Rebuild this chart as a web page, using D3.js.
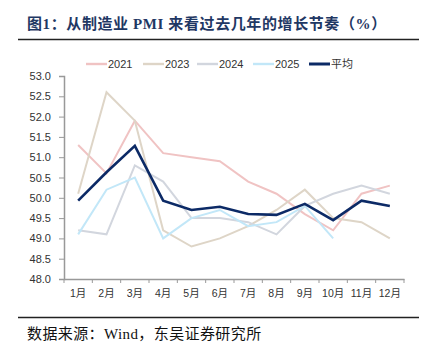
<!DOCTYPE html>
<html>
<head>
<meta charset="utf-8">
<script src="https://cdn.jsdelivr.net/npm/d3@7"></script>
<style>
  html, body { margin: 0; padding: 0; background: #fff; }
  svg { display: block; }
</style>
</head>
<body>
<script>
// Manufacturing PMI by month, one list per year
const months = ['1月', '2月', '3月', '4月', '5月', '6月', '7月', '8月', '9月', '10月', '11月', '12月'];
const pmi2021 = [51.3, 50.6, 51.9, 51.1, 51.0, 50.9, 50.4, 50.1, 49.6, 49.2, 50.1, 50.3];
const pmi2023 = [50.1, 52.6, 51.9, 49.2, 48.8, 49.0, 49.3, 49.7, 50.2, 49.5, 49.4, 49.0];
const pmi2024 = [49.2, 49.1, 50.8, 50.4, 49.5, 49.5, 49.4, 49.1, 49.8, 50.1, 50.3, 50.1];
const pmi2025 = [49.1, 50.2, 50.5, 49.0, 49.5, 49.7, 49.3, 49.4, 49.8, 49.0];
const pmiAvg = [49.93, 50.63, 51.28, 49.93, 49.70, 49.78, 49.60, 49.58, 49.85, 49.45, 49.93, 49.80];
const yTicks = [48.0, 48.5, 49.0, 49.5, 50.0, 50.5, 51.0, 51.5, 52.0, 52.5, 53.0];

const series = [
  {name: '2021', values: pmi2021, color: '#f0c3c3', width: 2},
  {name: '2023', values: pmi2023, color: '#ded5c7', width: 2},
  {name: '2024', values: pmi2024, color: '#d2d6de', width: 2},
  {name: '2025', values: pmi2025, color: '#c2e7f8', width: 2},
  {name: '平均', values: pmiAvg, color: '#0c2a66', width: 2.6},
];

const W = 431, H = 349;
const margin = {top: 76, right: 27, bottom: 70, left: 64};

const svg = d3.select('body').append('svg')
  .attr('width', W)
  .attr('height', H);

// title + rules
svg.append('text')
  .attr('x', 27).attr('y', 29)
  .attr('font-family', '"Liberation Serif", "Noto Sans CJK SC", serif')
  .attr('font-weight', 'bold')
  .attr('font-size', 15)
  .attr('letter-spacing', 0.6)
  .attr('fill', '#1f3864')
  .text('图1：从制造业 PMI 来看过去几年的增长节奏（%）');

svg.append('line')
  .attr('x1', 18).attr('x2', 419).attr('y1', 39.5).attr('y2', 39.5)
  .attr('stroke', '#222').attr('stroke-width', 1.6);

svg.append('line')
  .attr('x1', 18).attr('x2', 419).attr('y1', 317.5).attr('y2', 317.5)
  .attr('stroke', '#222').attr('stroke-width', 1.6);

svg.append('text')
  .attr('x', 27).attr('y', 339)
  .attr('font-family', '"Liberation Serif", "Noto Sans CJK SC", serif')
  .attr('font-size', 15)
  .attr('letter-spacing', 0.4)
  .attr('fill', '#111')
  .text('数据来源：Wind，东吴证券研究所');

// scales
const x = d3.scaleBand().domain(months).range([margin.left, W - margin.right]);
const y = d3.scaleLinear().domain([48, 53]).range([H - margin.bottom, margin.top]);
const xc = (i) => x(months[i]) + x.bandwidth() / 2;

// y axis
const axisY = svg.append('g')
  .attr('transform', `translate(${margin.left},0)`)
  .call(d3.axisLeft(y).tickValues(yTicks).tickFormat(d3.format('.1f')).tickSize(5).tickPadding(8));

// x axis: labels at band centres, tick marks on band edges
const axisX = svg.append('g')
  .attr('transform', `translate(0,${H - margin.bottom})`)
  .call(d3.axisBottom(x).tickSize(0).tickPadding(11));

axisX.selectAll('.edge')
  .data(d3.range(months.length + 1))
  .enter().append('line')
  .attr('class', 'edge')
  .attr('x1', (i) => margin.left + i * x.step())
  .attr('x2', (i) => margin.left + i * x.step())
  .attr('y1', 0).attr('y2', 4)
  .attr('stroke', '#999');

[axisX, axisY].forEach((ax) => {
  ax.select('.domain').attr('stroke', '#999').attr('stroke-width', 1.5);
  ax.selectAll('.tick line').attr('stroke', '#999');
  ax.selectAll('text')
    .attr('font-family', '"Liberation Sans", "Noto Sans CJK SC", sans-serif')
    .attr('font-size', 11)
    .attr('fill', '#333');
});
axisX.selectAll('text').attr('font-size', 10.5);

// lines
const line = d3.line()
  .x((d, i) => xc(i))
  .y((d) => y(d));

svg.append('g').selectAll('path')
  .data(series)
  .enter().append('path')
  .attr('d', (s) => line(s.values))
  .attr('fill', 'none')
  .attr('stroke', (s) => s.color)
  .attr('stroke-width', (s) => s.width)
  .attr('stroke-linejoin', 'miter');

// legend
const legendX = [86, 143, 197, 253, 309];
const legend = svg.append('g').selectAll('g')
  .data(series)
  .enter().append('g')
  .attr('transform', (s, i) => `translate(${legendX[i]},64)`);

legend.append('line')
  .attr('x1', 0).attr('x2', 21)
  .attr('stroke', (s) => s.color)
  .attr('stroke-width', (s) => s.width + 0.4);

legend.append('text')
  .attr('x', 22).attr('y', 4)
  .attr('font-family', '"Liberation Sans", "Noto Sans CJK SC", sans-serif')
  .attr('font-size', 11)
  .attr('fill', '#333')
  .text((s) => s.name);
</script>
</body>
</html>
